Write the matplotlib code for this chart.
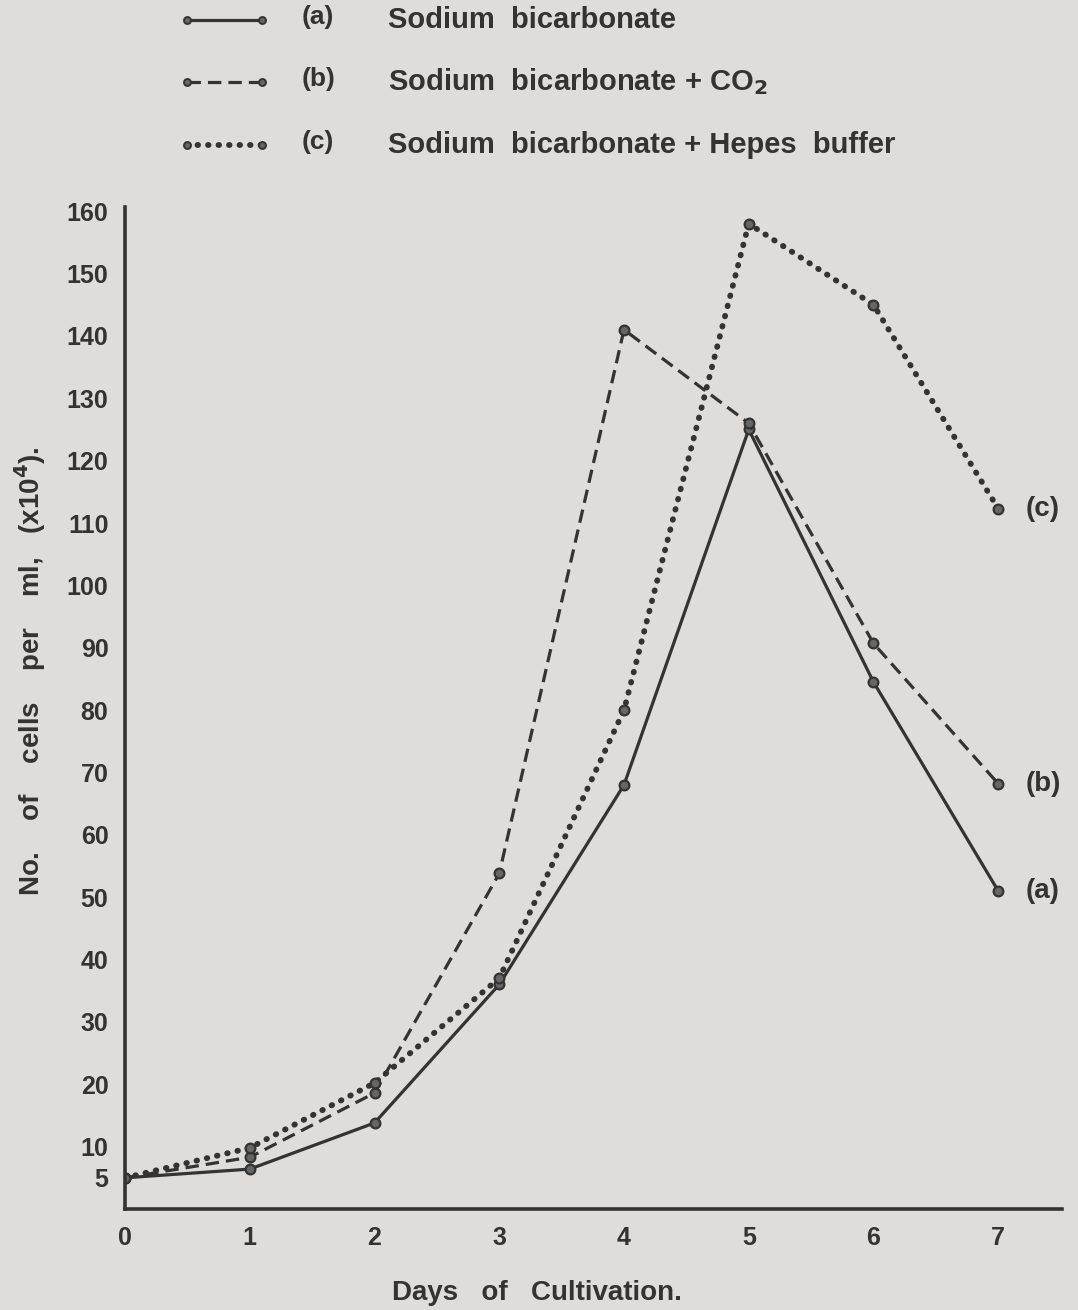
#!/usr/bin/env python3
"""
Growth curves of cell cultures under three buffering conditions
"""

import matplotlib.pyplot as plt
from matplotlib.lines import Line2D

days = [0, 1, 2, 3, 4, 5, 6, 7]

# cells per ml (x10^4)
bicarbonate = [5, 6.4, 13.8, 36, 68, 125, 84.5, 51]
bicarbonate_co2 = [5, 8.3, 18.6, 53.8, 141, 126, 90.7, 68.2]
bicarbonate_hepes = [5, 9.8, 20.2, 37, 80, 158, 145, 112.3]

series_tags = ['(a)', '(b)', '(c)']
series_names = ['Sodium  bicarbonate',
                'Sodium  bicarbonate + CO$_2$',
                'Sodium  bicarbonate + Hepes  buffer']

y_ticks = [5, 10, 20, 30, 40, 50, 60, 70, 80, 90, 100, 110, 120, 130, 140, 150, 160]

paper = '#dedddb'
ink = '#333333'

plt.rcParams['font.family'] = ['Liberation Sans', 'DejaVu Sans']
plt.rcParams['font.weight'] = 'bold'

fig = plt.figure(figsize=(10.78, 13.10), dpi=100, facecolor=paper)
ax = fig.add_axes([0.116, 0.0771, 0.869, 0.765])
ax.set_facecolor(paper)

styles = [
    dict(linestyle='-', linewidth=2.3),
    dict(linestyle=(0, (4.2, 2.2)), linewidth=2.3),
    dict(linestyle=(0, (0.1, 1.7)), linewidth=4.2, dash_capstyle='round'),
]
marker_kw = dict(marker='o', markersize=7, markerfacecolor='#666666',
                 markeredgecolor=ink, markeredgewidth=1.6)

all_series = [bicarbonate, bicarbonate_co2, bicarbonate_hepes]
for values, style, tag in zip(all_series, styles, series_tags):
    ax.plot(days, values, color=ink, **style, **marker_kw)
    ax.annotate(tag, (days[-1], values[-1]), xytext=(20, 0),
                textcoords='offset points', va='center', ha='left',
                fontsize=20, color=ink)

ax.set_xlim(0, 7.51)
ax.set_ylim(0, 160.7)

for side in ['top', 'right']:
    ax.spines[side].set_visible(False)
for side in ['left', 'bottom']:
    ax.spines[side].set_linewidth(2.6)
    ax.spines[side].set_color(ink)

ax.set_xticks(days)
ax.set_xticklabels([str(d) for d in days])
ax.set_yticks(y_ticks)
ax.set_yticklabels([str(v) for v in y_ticks])
ax.tick_params(axis='both', length=0, labelsize=18, colors=ink)
ax.tick_params(axis='y', pad=12)
ax.tick_params(axis='x', pad=12)

fig.text(0.498, 0.013, 'Days   of   Cultivation.', ha='center', va='center',
         fontsize=20, color=ink)
fig.text(0.028, 0.488, 'No.    of    cells    per    ml,   (x10$^4$).', ha='center',
         va='center', rotation=90, fontsize=20, color=ink)

# legend drawn by hand at the top of the page
row_y = [1 - 20 / 1310, 1 - 82 / 1310, 1 - 145 / 1310]
for y, style, tag, name in zip(row_y, styles, series_tags, series_names):
    fig.add_artist(Line2D([187 / 1078, 262 / 1078], [y, y], color=ink,
                          transform=fig.transFigure, **style,
                          marker='o', markersize=5, markerfacecolor='#666666',
                          markeredgecolor=ink, markeredgewidth=1.4))
    fig.text(302 / 1078, y + 0.002, tag, ha='left', va='center',
             fontsize=19, color=ink)
    fig.text(388 / 1078, y, name, ha='left', va='center',
             fontsize=21, color=ink)

fig.savefig('out.png', dpi=100, facecolor=paper)
